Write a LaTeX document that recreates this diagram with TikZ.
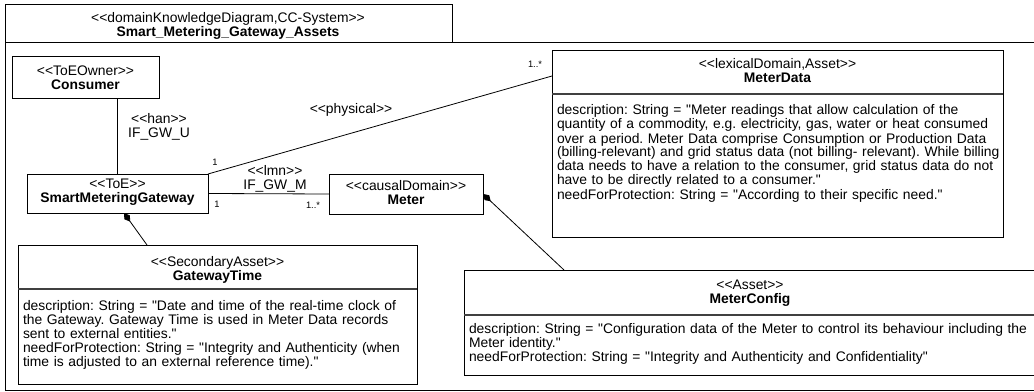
\documentclass[tikz,border=0pt]{standalone}
\usepackage{fontspec}
\setmainfont{Liberation Sans}[Ligatures=TeXOff]
\usetikzlibrary{arrows.meta,calc}
\newcommand{\umlbox}[5]{%
  \node[umlframe, minimum width={(#4-#2)*0.75pt}, minimum height={(#5-#3)*0.75pt}] (#1) at (#2,#3) {};}
\frenchspacing
\begin{document}
\begin{tikzpicture}[x=0.75pt,y=-0.75pt,
  every node/.style={font=\fontsize{10.4pt}{10.5pt}\selectfont, inner sep=0pt, outer sep=0pt},
  umlframe/.style={draw, line width=0.75pt, anchor=north west},
  sepline/.style={line width=1pt, black!75},
  head/.style={align=center},
  attr/.style={anchor=base west, text width=600pt, align=left},
  mult/.style={font=\fontsize{7pt}{8pt}\selectfont},
  conn/.style={line width=0.6pt},
  comp/.style={line width=0.6pt, {Diamond[length=8pt,width=5pt]}-}
]
\useasboundingbox (0,0) rectangle (1034,392);
\clip (0,0) rectangle (1034,392);

% diagram frame
\draw[line width=0.75pt] (1045,43) -- (5,43) -- (5,390) -- (1045,390);
\umlbox{title}{5}{5}{452}{43}
\node[head] (titletext) at (228,26) {<<domainKnowledgeDiagram,CC-System>>\\\textbf{Smart\_Metering\_Gateway\_Assets}};

% Consumer
\umlbox{consumer}{12}{57}{159}{99}
\node[head] (consumertext) at (85.5,78) {<<ToEOwner>>\\\textbf{Consumer}};

% SmartMeteringGateway
\umlbox{smg}{27}{174}{208}{213}
\node[head] (smgtext) at (117.5,192.5) {<<ToE>>\\\textbf{SmartMeteringGateway}};

% Meter
\umlbox{meter}{329}{174}{483}{214}
\node[head] (metertext) at (406,192.5) {<<causalDomain>>\\\textbf{Meter}};

% MeterData
\umlbox{md}{552}{51}{1003}{237}
\draw[sepline] ($(md.north west)+(0,43)$) -- ($(md.north east)+(0,43)$);
\node[head] (mdtext) at (777.5,71) {<<lexicalDomain,Asset>>\\\textbf{MeterData}};
\node[attr] (mdattr) at (557,115) {description: String = "Meter readings that allow calculation of the\\
quantity of a commodity, e.g. electricity, gas, water or heat consumed\\
over a period. Meter Data comprise Consumption or Production Data\\
(billing-relevant) and grid status data (not billing- relevant). While billing\\
data needs to have a relation to the consumer, grid status data do not\\
have to be directly related to a consumer."\\
needForProtection: String = "According to their specific need."};

% GatewayTime
\umlbox{gt}{18}{245}{417}{384}
\draw[sepline] ($(gt.north west)+(0,44)$) -- ($(gt.north east)+(0,44)$);
\node[head] (gttext) at (217.5,270) {<<SecondaryAsset>>\\\textbf{GatewayTime}};
\node[attr] (gtattr) at (23,310) {description: String = "Date and time of the real-time clock of\\
the Gateway. Gateway Time is used in Meter Data records\\
sent to external entities."\\
needForProtection: String = "Integrity and Authenticity (when\\
time is adjusted to an external reference time)."};

% MeterConfig
\umlbox{mc}{464}{270}{1036}{375}
\draw[sepline] ($(mc.north west)+(0,45)$) -- ($(mc.north east)+(0,45)$);
\node[head] (mctext) at (750,293) {<<Asset>>\\\textbf{MeterConfig}};
\node[attr] (mcattr) at (469,333) {description: String = "Configuration data of the Meter to control its behaviour including the\\
Meter identity."\\
needForProtection: String = "Integrity and Authenticity and Confidentiality"};

% connectors
\draw[conn] (smg.north) -- (smg.north |- consumer.south);
\node[head] (hanlabel) at (159,127) {<<han>>\\IF\_GW\_U};

\draw[conn] (smg.north east) -- ($(md.north west)+(0,25)$);
\node (physlabel) at (351,110) {<<physical>>};
\node[mult] (m1) at (215,162) {1};
\node[mult] (m2) at (535,64) {1..*};

\draw[conn] (smg.east) -- (meter.west);
\node[head] (lmnlabel) at (275,179) {<<lmn>>\\IF\_GW\_M};
\node[mult] (m3) at (217,204) {1};
\node[mult] (m4) at (313,205) {1..*};

\draw[comp] ($(smg.south)+(6.5,0)$) -- ($(gt.north west)+(129,0)$);
\draw[comp] (meter.east) -- ($(mc.north west)+(100,0)$);
\end{tikzpicture}
\end{document}
